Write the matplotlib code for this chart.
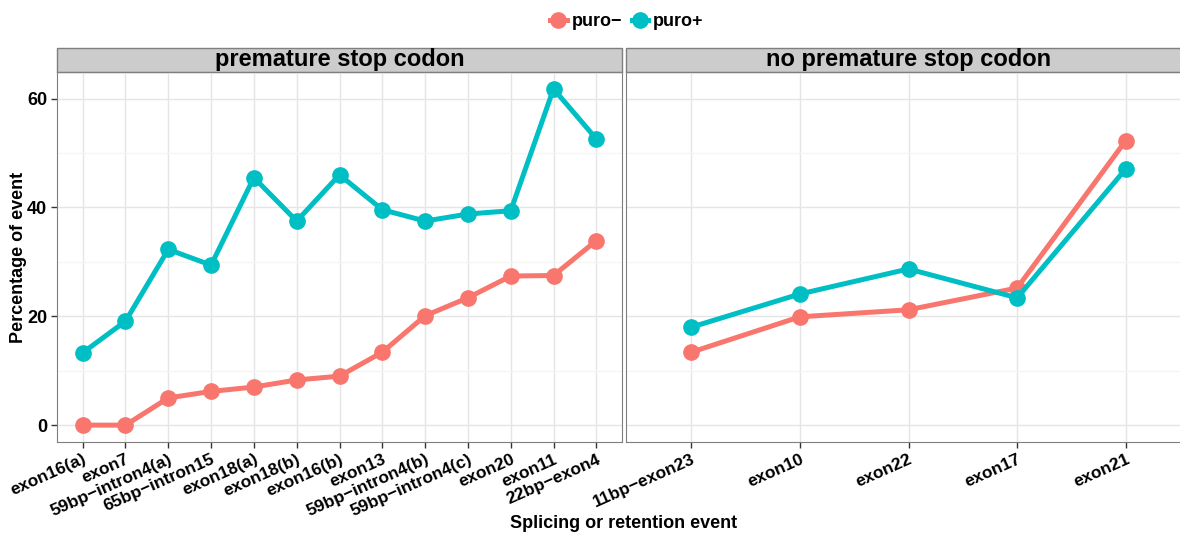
import matplotlib.pyplot as plt
from matplotlib.lines import Line2D

plt.rcParams['font.family'] = ['Liberation Sans', 'DejaVu Sans']
plt.rcParams['font.weight'] = 'bold'

# premature stop codon panel
cats_ptc = ['exon16(a)', 'exon7', '59bp\u2212intron4(a)', '65bp\u2212intron15', 'exon18(a)',
            'exon18(b)', 'exon16(b)', 'exon13', '59bp\u2212intron4(b)', '59bp\u2212intron4(c)',
            'exon20', 'exon11', '22bp\u2212exon4']
minus_ptc = [0.0, 0.0, 5.0, 6.2, 7.0, 8.3, 9.0, 13.4, 20.1, 23.4, 27.4, 27.5, 33.9]
plus_ptc = [13.3, 19.1, 32.3, 29.4, 45.5, 37.5, 46.0, 39.6, 37.5, 38.8, 39.4, 61.8, 52.6]

# no premature stop codon panel
cats_noptc = ['11bp\u2212exon23', 'exon10', 'exon22', 'exon17', 'exon21']
minus_noptc = [13.4, 19.9, 21.2, 25.2, 52.3]
plus_noptc = [18.0, 24.1, 28.7, 23.4, 47.1]

col_minus = '#F8766D'
col_plus = '#00BFC4'

fig = plt.figure(figsize=(11.8, 5.34), dpi=100)
W, H = 1180, 534
bottom, top = 442, 72
strip_h = 24
ax1 = fig.add_axes([57 / W, 1 - bottom / H, 565 / W, (bottom - top) / H])
ax2 = fig.add_axes([626 / W, 1 - bottom / H, 565 / W, (bottom - top) / H])

panels = [(ax1, cats_ptc, minus_ptc, plus_ptc, 'premature stop codon'),
          (ax2, cats_noptc, minus_noptc, plus_noptc, 'no premature stop codon')]

for ax, cats, mn, pl, title in panels:
    x = list(range(len(cats)))
    ax.plot(x, mn, color=col_minus, lw=3.6, marker='o', ms=11, zorder=3, clip_on=False)
    ax.plot(x, pl, color=col_plus, lw=3.6, marker='o', ms=11, zorder=3, clip_on=False)
    ax.set_xlim(-0.6, len(cats) - 0.4)
    ax.set_ylim(-3.1, 64.9)
    ax.set_xticks(x)
    ax.set_xticklabels(cats, rotation=24, ha='right', va='top', rotation_mode='anchor',
                       fontsize=12.5, fontweight='bold')
    ax.set_yticks([0, 20, 40, 60])
    ax.set_yticks([10, 30, 50], minor=True)
    ax.grid(which='major', color='#E5E5E5', lw=1)
    ax.grid(which='minor', axis='y', color='#F5F5F5', lw=1)
    ax.set_axisbelow(True)
    for s in ax.spines.values():
        s.set_color('#7F7F7F')
    ax.tick_params(axis='both', which='major', length=4, width=1, color='#333333', pad=3)
    ax.tick_params(axis='y', which='major', labelsize=13)
    ax.tick_params(axis='y', which='minor', length=0)
    # strip on top of panel
    strip = plt.Rectangle((0, 1.0), 1, strip_h / (bottom - top), transform=ax.transAxes,
                          facecolor='#CCCCCC', edgecolor='#7F7F7F', lw=1, clip_on=False,
                          zorder=0)
    ax.add_patch(strip)
    ax.text(0.5, 1.0 + (strip_h / 2) / (bottom - top), title, transform=ax.transAxes,
            ha='center', va='center', fontsize=17, fontweight='bold')

ax2.tick_params(axis='y', left=False, labelleft=False)

fig.text(19 / W, 1 - 257 / H, 'Percentage of event', rotation=90, ha='center', va='center',
         fontsize=13, fontweight='bold')
fig.text(624 / W, 1 - 524 / H, 'Splicing or retention event', ha='center', va='center',
         fontsize=13, fontweight='bold')

handles = [Line2D([0], [0], color=col_minus, lw=3.6, marker='o', ms=11),
           Line2D([0], [0], color=col_plus, lw=3.6, marker='o', ms=11)]
fig.legend(handles, ['puro\u2212', 'puro+'], loc='center', bbox_to_anchor=(627 / W, 1 - 22 / H),
           ncol=2, frameon=False, handlelength=0.9, handletextpad=0.3,
           columnspacing=0.5, prop={'weight': 'bold', 'size': 13})

fig.savefig('out.png', dpi=100)
